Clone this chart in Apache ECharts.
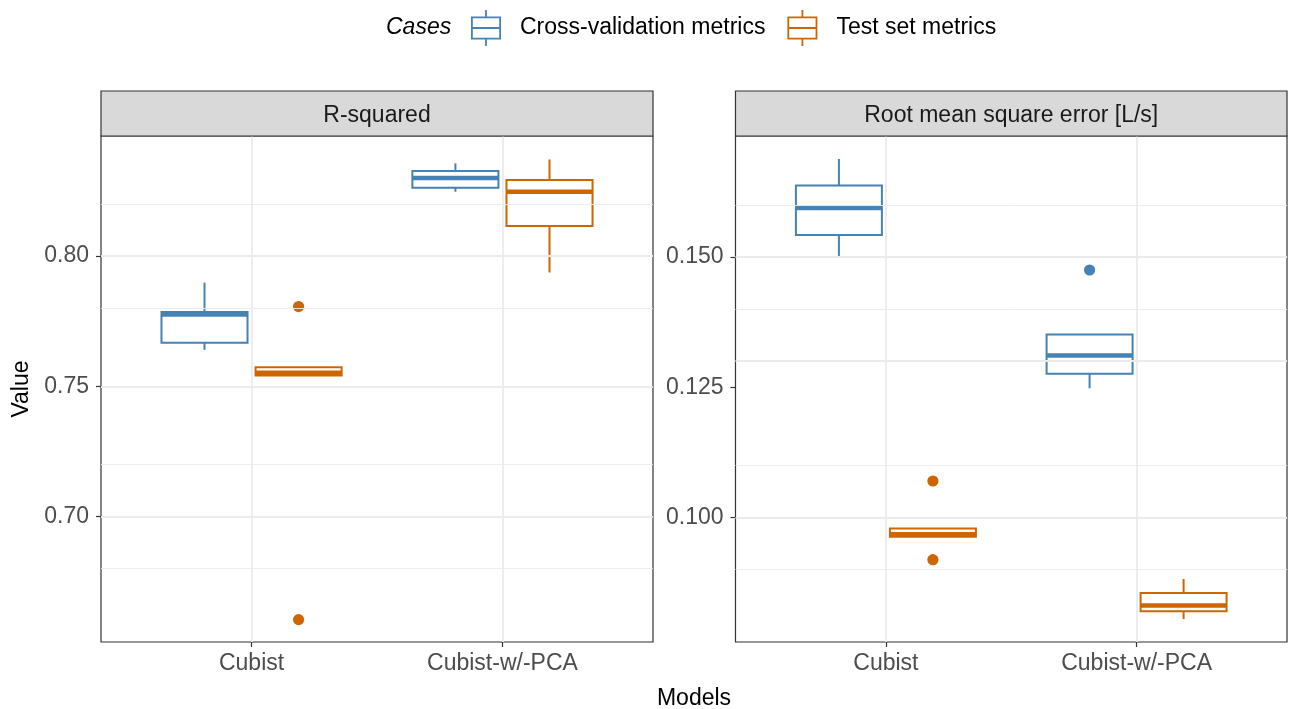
<!DOCTYPE html>
<html><head><meta charset="utf-8">
<script src="https://cdn.jsdelivr.net/npm/echarts@6/dist/echarts.min.js"></script>
<style>html,body{margin:0;padding:0;background:#fff}#c{width:1289px;height:709px}</style>
</head><body><div id="c"></div>
<script>
// ---------- data ----------
const models = ['Cubist', 'Cubist-w/-PCA'];
const cases = ['Cross-validation metrics', 'Test set metrics'];
const panels = ['R-squared', 'Root mean square error [L/s]'];
// [lower whisker, Q1, median, Q3, upper whisker] per model
const r2CV = [[0.7640, 0.7667, 0.7776, 0.7785, 0.7898], [0.8247, 0.8262, 0.8300, 0.8327, 0.8356]];
const r2Test = [[0.7541, 0.7541, 0.7552, 0.7573, 0.7573], [0.7937, 0.8115, 0.8247, 0.8292, 0.8371]];
const rmseCV = [[0.1502, 0.1542, 0.1594, 0.1637, 0.1688], [0.1248, 0.1276, 0.1311, 0.1351, 0.1351]];
const rmseTest = [[0.0963, 0.0963, 0.0968, 0.0979, 0.0979], [0.0805, 0.0820, 0.0831, 0.0855, 0.0882]];
// outliers: [model index, value]
const r2CVOut = [];
const r2TestOut = [[0, 0.7806], [0, 0.6604]];
const rmseCVOut = [[1, 0.1475]];
const rmseTestOut = [[0, 0.1070], [0, 0.0919]];
// tick labels / grid values
const r2Ticks = [0.70, 0.75, 0.80];
const r2Minor = [0.675, 0.725, 0.775, 0.825];
const rmseTicks = [0.100, 0.125, 0.150];
const rmseMinor = [0.0875, 0.1125, 0.1375, 0.1625];
const r2Range = [0.6518, 0.8461];
const rmseRange = [0.0761, 0.17322];

// ---------- styling / layout ----------
const caseColors = ['#4682B4', '#CD6600'];
const FONT = 'Liberation Sans, Arial, Helvetica, sans-serif';
const FS = 23;
const G = [
  {left: 101, top: 136, width: 552, height: 506},
  {left: 735.5, top: 136, width: 551.5, height: 506}
];
const DODGE = 0.1875, BOXW = 0.343;
const ICON = 'path://M0,6.5H30V8.3H0Z M0,27.7H30V29.5H0Z M0,6.5H1.8V29.5H0Z M28.2,6.5H30V29.5H28.2Z M0,17H30V19H0Z M14.1,0H15.9V6.5H14.1Z M14.1,29.5H15.9V36H14.1Z';

function boxRenderer(offset, color) {
  return function (params, api) {
    const x = api.value(0) + offset;
    const lo = api.coord([x, api.value(1)]);
    const q1 = api.coord([x, api.value(2)]);
    const md = api.coord([x, api.value(3)]);
    const q3 = api.coord([x, api.value(4)]);
    const hi = api.coord([x, api.value(5)]);
    const hw = api.size([BOXW, 0])[0] / 2;
    const cx = q1[0];
    const ls = {stroke: color, lineWidth: 2, fill: null};
    return {type: 'group', children: [
      {type: 'line', shape: {x1: cx, y1: q3[1], x2: cx, y2: hi[1]}, style: ls},
      {type: 'line', shape: {x1: cx, y1: q1[1], x2: cx, y2: lo[1]}, style: ls},
      {type: 'rect', shape: {x: cx - hw, y: q3[1], width: 2 * hw, height: q1[1] - q3[1]},
        style: {stroke: color, lineWidth: 2, fill: '#fff'}},
      {type: 'line', shape: {x1: cx - hw, y1: md[1], x2: cx + hw, y2: md[1]},
        style: {stroke: color, lineWidth: 4.5}}
    ]};
  };
}
function pointRenderer(offset, color) {
  return function (params, api) {
    const p = api.coord([api.value(0) + offset, api.value(1)]);
    return {type: 'circle', shape: {cx: p[0], cy: p[1], r: 5.6}, style: {fill: color}};
  };
}
function boxSeries(gi, ci, stats) {
  const off = ci === 0 ? -DODGE : DODGE;
  return {
    type: 'custom', name: cases[ci], xAxisIndex: gi, yAxisIndex: gi, z: 3,
    itemStyle: {color: caseColors[ci]},
    renderItem: boxRenderer(off, caseColors[ci]),
    encode: {x: 0, y: [1, 2, 3, 4, 5]},
    data: stats.map((s, i) => [i + 1].concat(s))
  };
}
function outSeries(gi, ci, outs) {
  const off = ci === 0 ? -DODGE : DODGE;
  return {
    type: 'custom', name: cases[ci], xAxisIndex: gi, yAxisIndex: gi, z: 4,
    itemStyle: {color: caseColors[ci]},
    renderItem: pointRenderer(off, caseColors[ci]),
    encode: {x: 0, y: 1},
    data: outs.map(o => [o[0] + 1, o[1]])
  };
}
function gridSeries(gi, major, minor) {
  const ml = [];
  major.forEach(v => ml.push({yAxis: v, lineStyle: {width: 1.8}}));
  minor.forEach(v => ml.push({yAxis: v, lineStyle: {width: 0.9}}));
  models.forEach((m, i) => ml.push({xAxis: i + 1, lineStyle: {width: 1.8}}));
  return {
    type: 'line', name: 'grid' + gi, xAxisIndex: gi, yAxisIndex: gi, z: 1, data: [],
    silent: true,
    markLine: {silent: true, symbol: ['none', 'none'], label: {show: false}, animation: false,
      lineStyle: {color: '#EBEBEB', type: 'solid'}, data: ml}
  };
}
function xAxis(gi) {
  return {
    type: 'value', gridIndex: gi, min: 0.4, max: 2.6,
    axisLine: {show: false}, splitLine: {show: false},
    axisTick: {show: true, customValues: [1, 2], length: 5, lineStyle: {color: '#333', width: 1.2}},
    axisLabel: {customValues: [1, 2], formatter: v => models[Math.round(v) - 1],
      color: '#4D4D4D', fontSize: FS, fontFamily: FONT, margin: 10}
  };
}
function yAxis(gi, range, ticks, dec) {
  return {
    type: 'value', gridIndex: gi, min: range[0], max: range[1],
    axisLine: {show: false}, splitLine: {show: false},
    axisTick: {show: true, customValues: ticks, length: 5, lineStyle: {color: '#333', width: 1.2}},
    axisLabel: {customValues: ticks, formatter: v => v.toFixed(dec),
      color: '#4D4D4D', fontSize: FS, fontFamily: FONT, margin: 12, padding: [5, 0, 0, 0]}
  };
}

const series = [
  gridSeries(0, r2Ticks, r2Minor),
  gridSeries(1, rmseTicks, rmseMinor),
  boxSeries(0, 0, r2CV), boxSeries(0, 1, r2Test),
  boxSeries(1, 0, rmseCV), boxSeries(1, 1, rmseTest),
  outSeries(0, 1, r2TestOut), outSeries(1, 0, rmseCVOut), outSeries(1, 1, rmseTestOut)
];
if (r2CVOut.length) series.push(outSeries(0, 0, r2CVOut));

const graphics = [];
G.forEach((g, i) => {
  graphics.push({type: 'rect', z: 10, shape: {x: g.left, y: 91, width: g.width, height: 45},
    style: {fill: '#D9D9D9', stroke: '#333', lineWidth: 1.2}});
  graphics.push({type: 'text', z: 11, x: g.left + g.width / 2, y: 116,
    style: {text: panels[i], fontSize: FS, fontFamily: FONT, fill: '#1A1A1A', align: 'center', verticalAlign: 'middle'}});
});
graphics.push({type: 'text', x: 694, y: 699,
  style: {text: 'Models', fontSize: FS, fontFamily: FONT, fill: '#000', align: 'center', verticalAlign: 'middle'}});
graphics.push({type: 'text', x: 22, y: 389, rotation: Math.PI / 2,
  style: {text: 'Value', fontSize: FS, fontFamily: FONT, fill: '#000', align: 'center', verticalAlign: 'middle'}});
graphics.push({type: 'text', x: 386, y: 28,
  style: {text: 'Cases', fontSize: FS, fontFamily: FONT, fontStyle: 'italic', fill: '#000', align: 'left', verticalAlign: 'middle'}});

const chart = echarts.init(document.getElementById('c'), null, {renderer: 'canvas'});
chart.setOption({
  animation: false,
  backgroundColor: '#fff',
  textStyle: {fontFamily: FONT},
  grid: G.map(g => Object.assign({show: true, borderColor: '#333', borderWidth: 1.2, backgroundColor: '#fff', containLabel: false}, g)),
  xAxis: [xAxis(0), xAxis(1)],
  yAxis: [yAxis(0, r2Range, r2Ticks, 2), yAxis(1, rmseRange, rmseTicks, 3)],
  legend: {
    data: cases.map(n => ({name: n, icon: ICON})),
    left: 466, top: 5, itemWidth: 30, itemHeight: 36, itemGap: 22,
    selectedMode: false,
    textStyle: {fontSize: FS, fontFamily: FONT, color: '#000', padding: [0, 0, 0, 14]}
  },
  graphic: graphics,
  series: series
});
</script></body></html>
